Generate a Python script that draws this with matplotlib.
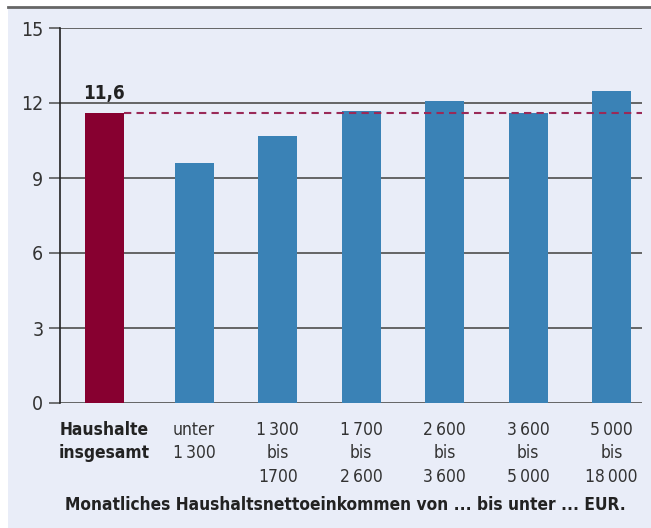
import matplotlib.pyplot as plt
from matplotlib.patches import Rectangle
from matplotlib.lines import Line2D

plt.rcParams["font.family"] = ["DejaVu Sans"]
plt.rcParams["font.stretch"] = "condensed"

# data
categories = [
    "Haushalte\ninsgesamt",
    "unter\n1\u2009300",
    "1\u2009300\nbis\n1700",
    "1\u2009700\nbis\n2\u2009600",
    "2\u2009600\nbis\n3\u2009600",
    "3\u2009600\nbis\n5\u2009000",
    "5\u2009000\nbis\n18\u2009000",
]
values = [11.6, 9.6, 10.7, 11.7, 12.1, 11.6, 12.5]
total_value = 11.6
total_label = "11,6"
yticks = [0, 3, 6, 9, 12, 15]
xlabel = "Monatliches Haushaltsnettoeinkommen von ... bis unter ... EUR."

bg = "#e9edf8"
red = "#870030"
blue = "#3a82b6"
grid = "#5a5a5a"

fig = plt.figure(figsize=(6.51, 5.28), dpi=100, facecolor="white")

# panel background and top rule
fig.patches.append(Rectangle((8 / 651, 0), 1 - 8 / 651, 1 - 7 / 528,
                             transform=fig.transFigure, facecolor=bg,
                             edgecolor="none", zorder=-10))
fig.lines.append(Line2D([8 / 651, 1], [1 - 6.5 / 528, 1 - 6.5 / 528],
                        transform=fig.transFigure, color="#666666", lw=2,
                        zorder=-5))

ax = fig.add_axes([60 / 651, 1 - 403 / 528, (642 - 60) / 651, (403 - 28) / 528])
ax.set_facecolor("none")

x = [0] + [i + 0.08 for i in range(1, len(values))]
colors = [red] + [blue] * (len(values) - 1)
width = 0.467

for yt in yticks:
    ax.axhline(yt, color=grid, lw=1.3, zorder=1)

ax.bar(x, values, width=width, color=colors, zorder=2)

# dashed reference line for all households
ax.plot([x[0] + width / 2, 6.443], [total_value, total_value],
        color="#9a2a58", lw=1.5, ls=(0, (3.5, 2.5)), zorder=3)

ax.text(x[0], values[0] + 0.38, total_label, ha="center", va="bottom",
        fontsize=13.5, fontweight="bold", color="#222222")

ax.set_xlim(-0.527, 6.443)
ax.set_ylim(0, 15)
ax.set_yticks(yticks)
ax.set_yticklabels([str(v) for v in yticks], fontsize=14, color="#333333")
ax.tick_params(axis="y", length=8, width=1.2, color=grid, pad=4)

ax.set_xticks(x)
ax.set_xticklabels(categories, fontsize=12.5, color="#333333", linespacing=1.38)
ax.tick_params(axis="x", length=0, pad=13)
ax.get_xticklabels()[0].set_fontweight("bold")
ax.get_xticklabels()[0].set_color("#222222")

for s in ["top", "right", "bottom"]:
    ax.spines[s].set_visible(False)
ax.spines["left"].set_color("#222222")
ax.spines["left"].set_linewidth(1.2)

fig.text(345 / 651, 1 - 505 / 528, xlabel, ha="center", va="center",
         fontsize=12.4, fontweight="bold", color="#222222")

fig.savefig("out.png", dpi=100, facecolor="white")
